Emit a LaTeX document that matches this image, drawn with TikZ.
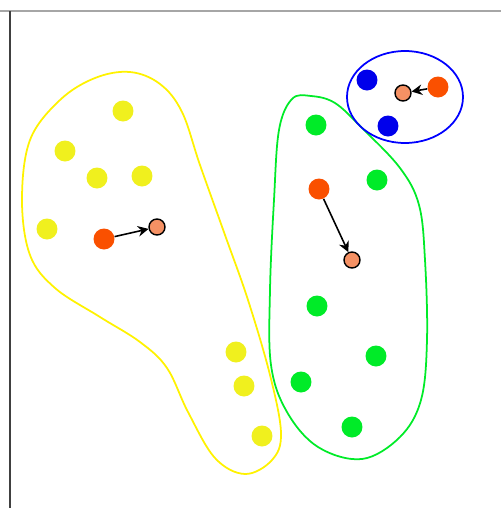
\documentclass[tikz,border=0pt]{standalone}
\usepackage{tikz}
\usetikzlibrary{arrows.meta}

\definecolor{dotyellow}{RGB}{240,240,30}
\definecolor{dotgreen}{RGB}{0,235,40}
\definecolor{dotblue}{RGB}{0,0,235}
\definecolor{dotred}{RGB}{250,80,0}
\definecolor{newcentre}{RGB}{245,145,100}

\begin{document}
\begin{tikzpicture}[
  x=0.02cm,
  y=-0.02cm,
  ydot/.style={circle, inner sep=0pt, minimum size=0.42cm, fill=dotyellow},
  gdot/.style={circle, inner sep=0pt, minimum size=0.42cm, fill=dotgreen},
  bdot/.style={circle, inner sep=0pt, minimum size=0.42cm, fill=dotblue},
  olddot/.style={circle, inner sep=0pt, minimum size=0.42cm, fill=dotred},
  newdot/.style={circle, inner sep=0pt, minimum size=0.32cm, fill=newcentre, draw=black, line width=0.8pt},
  move/.style={-{Stealth[length=6pt,width=6pt]}, line width=0.9pt},
  hull/.style={line width=1pt}
]
\useasboundingbox (0,0) rectangle (501,508);
% frame
\draw[gray!70, line width=1.4pt] (0,11) -- (501,11);
\draw[black!75, line width=1.4pt] (10,11) -- (10,508);

% cluster outlines
\draw[hull, yellow] plot[smooth cycle, tension=0.6] coordinates {
  (130,72) (160,84) (182,112) (200,165) (225,235) (248,300) (270,375)
  (281,433) (272,460) (245,474) (215,458) (188,412) (167,368) (140,342)
  (100,317) (55,288) (30,255) (22,200) (30,140) (60,100) (95,78)};
\draw[hull, dotgreen] plot[smooth cycle, tension=0.6] coordinates {
  (311,96) (335,103) (362,128) (400,168) (419,205) (425,260) (427,340)
  (421,400) (400,437) (362,459) (318,447) (287,412) (271,365) (270,290)
  (274,200) (279,130) (292,99)};
\draw[hull, blue] (405,97) ellipse (58 and 46);

% yellow points
\node[ydot] (y1) at (123,111) {};
\node[ydot] (y2) at (65,151) {};
\node[ydot] (y3) at (97,178) {};
\node[ydot] (y4) at (142,176) {};
\node[ydot] (y5) at (47,229) {};
\node[ydot] (y6) at (236,352) {};
\node[ydot] (y7) at (244,386) {};
\node[ydot] (y8) at (262,436) {};

% green points
\node[gdot] (g1) at (316,125) {};
\node[gdot] (g2) at (377,180) {};
\node[gdot] (g3) at (317,306) {};
\node[gdot] (g4) at (376,356) {};
\node[gdot] (g5) at (301,382) {};
\node[gdot] (g6) at (352,427) {};

% blue points
\node[bdot] (b1) at (367,80) {};
\node[bdot] (b2) at (388,126) {};

% centres, old and new
\node[olddot] (oldY) at (104,239) {};
\node[newdot] (newY) at (157,227) {};
\node[olddot] (oldG) at (319,189) {};
\node[newdot] (newG) at (352,260) {};
\node[olddot] (oldB) at (438,87) {};
\node[newdot] (newB) at (403,93) {};

\draw[move] (oldY) -- (newY);
\draw[move] (oldG) -- (newG);
\draw[move] (oldB) -- (newB);
\end{tikzpicture}
\end{document}
